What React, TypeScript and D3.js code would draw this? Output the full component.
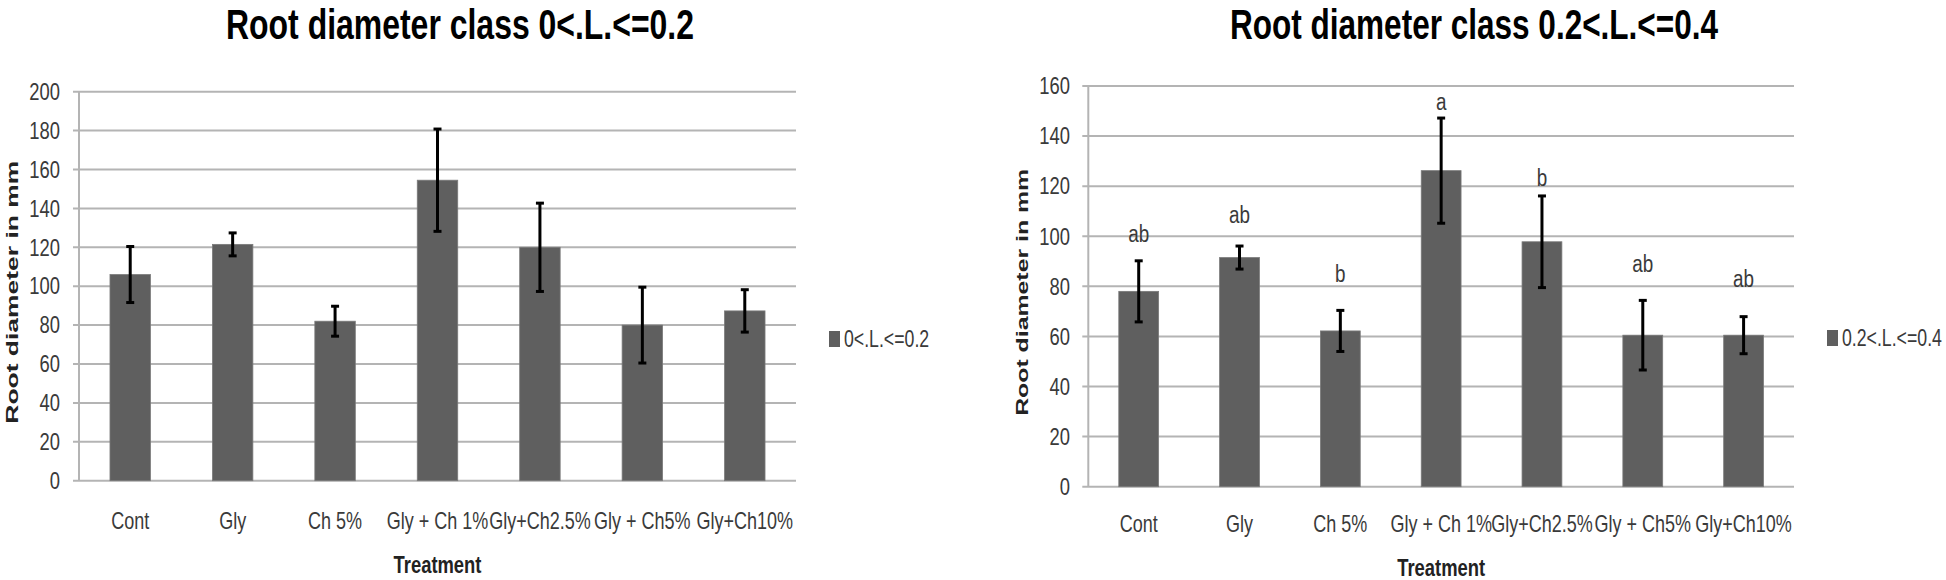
import React from "react";
import * as d3 from "d3";

const categories = ["Cont", "Gly", "Ch 5%", "Gly + Ch 1%", "Gly+Ch2.5%", "Gly + Ch5%", "Gly+Ch10%"];

const class1Title = "Root diameter class 0<.L.<=0.2";
const class1Legend = "0<.L.<=0.2";
const class1Means = [106, 121.5, 82, 154.5, 120, 80, 87.3];
const class1Errors = [14.4, 5.9, 7.7, 26.3, 22.7, 19.5, 10.9];
const class1Ticks = [0, 20, 40, 60, 80, 100, 120, 140, 160, 180, 200];

const class2Title = "Root diameter class 0.2<.L.<=0.4";
const class2Legend = "0.2<.L.<=0.4";
const class2Means = [78, 91.5, 62.2, 126.2, 97.8, 60.5, 60.5];
const class2Errors = [12.2, 4.6, 8.2, 21, 18.3, 13.9, 7.4];
const class2Ticks = [0, 20, 40, 60, 80, 100, 120, 140, 160];
const class2Letters = ["ab", "ab", "b", "a", "b", "ab", "ab"];
const class2LetterValues = [97.8, 105.1, 81.6, 150.5, 120.2, 85.9, 79.9];

const yAxisTitle = "Root diameter in mm";
const xAxisTitle = "Treatment";

const FONT = "'Liberation Sans', Arial, sans-serif";
const BAR = "#5f5f5f";
const GRID = "#b4b4b4";
const TXT = "#3a3a3a";

type Geo = {
  x0: number; x1: number; yTop: number; yBottom: number;
  tickLabelX: number; catBaseline: number; xTitleBaseline: number;
  yTitleX: number; yTitleLen: number; yTitleSize: number;
  titleX: number; titleBaseline: number; titleLen: number;
  legendX: number; legendY: number;
};

function Chart(props: {
  title: string; legend: string; means: number[]; errors: number[]; ticks: number[];
  letters?: string[]; letterValues?: number[]; geo: Geo;
}) {
  const { title, legend, means, errors, ticks, letters, letterValues, geo } = props;
  const maxT = ticks[ticks.length - 1];
  const y = d3.scaleLinear().domain([0, maxT]).range([geo.yBottom, geo.yTop]);
  const x = d3.scaleBand<string>().domain(categories).range([geo.x0, geo.x1]).padding(0);
  const bw = x.bandwidth() * 0.395;
  const cap = 4;
  const plotMid = (geo.x0 + geo.x1) / 2;
  return (
    <g>
      {/* title */}
      <text x={geo.titleX} y={geo.titleBaseline} fontFamily={FONT} fontWeight="bold" fontSize={42}
        fill="#000" textLength={geo.titleLen} lengthAdjust="spacingAndGlyphs">{title}</text>
      {/* gridlines */}
      {ticks.map((t) => (
        <line key={"g" + t} x1={geo.x0 - 6} x2={geo.x1} y1={y(t)} y2={y(t)} stroke={GRID} strokeWidth={2} />
      ))}
      <line x1={geo.x0} x2={geo.x0} y1={y(maxT)} y2={y(0)} stroke={GRID} strokeWidth={2} />
      {/* tick labels */}
      {ticks.map((t) => (
        <g key={"t" + t} transform={`translate(${geo.tickLabelX},${y(t)}) scale(0.8,1)`}>
          <text x={0} y={0} dy="0.36em" textAnchor="end" fontFamily={FONT} fontSize={23} fill={TXT}>{t}</text>
        </g>
      ))}
      {/* bars */}
      {means.map((m, i) => {
        const cx = (x(categories[i]) as number) + x.bandwidth() / 2;
        return (
          <rect key={"b" + i} x={cx - bw / 2} y={y(m)} width={bw} height={y(0) - y(m)} fill={BAR}
            stroke="#7a7a7a" strokeWidth={0.8} />
        );
      })}
      {/* error bars */}
      {means.map((m, i) => {
        const cx = (x(categories[i]) as number) + x.bandwidth() / 2;
        const hi = y(m + errors[i]);
        const lo = y(m - errors[i]);
        return (
          <g key={"e" + i} stroke="#000" strokeWidth={3}>
            <line x1={cx} x2={cx} y1={hi} y2={lo} />
            <line x1={cx - cap} x2={cx + cap} y1={hi} y2={hi} />
            <line x1={cx - cap} x2={cx + cap} y1={lo} y2={lo} />
          </g>
        );
      })}
      {/* letters */}
      {letters && letterValues && letters.map((l, i) => {
        const cx = (x(categories[i]) as number) + x.bandwidth() / 2;
        return (
          <g key={"l" + i} transform={`translate(${cx},${y(letterValues[i])}) scale(0.82,1)`}>
            <text x={0} y={0} textAnchor="middle" fontFamily={FONT} fontSize={23} fill={TXT}>{l}</text>
          </g>
        );
      })}
      {/* category labels */}
      {categories.map((c) => {
        const cx = (x(c) as number) + x.bandwidth() / 2;
        return (
          <g key={"c" + c} transform={`translate(${cx},${geo.catBaseline}) scale(0.75,1)`}>
            <text x={0} y={0} textAnchor="middle" fontFamily={FONT} fontSize={24} fill={TXT}>{c}</text>
          </g>
        );
      })}
      {/* x axis title */}
      <g transform={`translate(${plotMid},${geo.xTitleBaseline}) scale(0.8,1)`}>
        <text x={0} y={0} textAnchor="middle" fontFamily={FONT} fontWeight="bold" fontSize={23} fill="#222">{xAxisTitle}</text>
      </g>
      {/* y axis title */}
      <g transform={`translate(${geo.yTitleX},${(geo.yTop + geo.yBottom) / 2 + 6}) rotate(-90)`}>
        <text x={-geo.yTitleLen / 2} y={0} dy="0.36em" fontFamily={FONT} fontWeight="bold" fontSize={geo.yTitleSize}
          fill="#222" textLength={geo.yTitleLen} lengthAdjust="spacingAndGlyphs">{yAxisTitle}</text>
      </g>
      {/* legend */}
      <rect x={geo.legendX} y={geo.legendY - 8} width={11} height={16} fill={BAR} />
      <g transform={`translate(${geo.legendX + 15},${geo.legendY}) scale(0.77,1)`}>
        <text x={0} y={0} dy="0.36em" fontFamily={FONT} fontSize={23} fill={TXT}>{legend}</text>
      </g>
    </g>
  );
}

export default function App() {
  const geoL: Geo = {
    x0: 79, x1: 796, yTop: 91.7, yBottom: 480.7,
    tickLabelX: 60, catBaseline: 529, xTitleBaseline: 573,
    yTitleX: 12.5, yTitleLen: 263, yTitleSize: 16,
    titleX: 226, titleBaseline: 39, titleLen: 468,
    legendX: 829, legendY: 339,
  };
  const geoR: Geo = {
    x0: 1088.3, x1: 1794, yTop: 86, yBottom: 486.7,
    tickLabelX: 1070, catBaseline: 532, xTitleBaseline: 576,
    yTitleX: 1021.5, yTitleLen: 247, yTitleSize: 17,
    titleX: 1230, titleBaseline: 39, titleLen: 488,
    legendX: 1827, legendY: 338,
  };
  return (
    <svg width={1946} height={580} style={{ position: "absolute", left: 0, top: 0, background: "#fff" }}>
      <rect x={0} y={0} width={1946} height={580} fill="#fff" />
      <Chart title={class1Title} legend={class1Legend} means={class1Means} errors={class1Errors}
        ticks={class1Ticks} geo={geoL} />
      <Chart title={class2Title} legend={class2Legend} means={class2Means} errors={class2Errors}
        ticks={class2Ticks} letters={class2Letters} letterValues={class2LetterValues} geo={geoR} />
    </svg>
  );
}
